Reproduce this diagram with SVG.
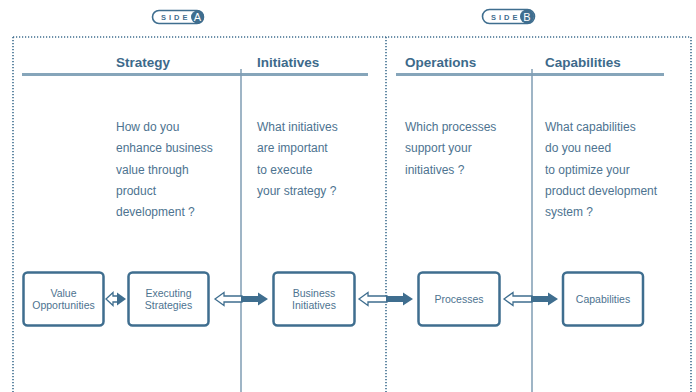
<svg xmlns="http://www.w3.org/2000/svg" width="696" height="392" viewBox="0 0 696 392">
  <style>
    .dot { stroke: #3f6e8f; stroke-width: 1.6; stroke-dasharray: 1.2 1.8; fill: none; }
    .rule { stroke: #86a5ba; stroke-width: 3; fill: none; }
    .vline { stroke: #7f9db3; stroke-width: 1.5; fill: none; }
    .head { font-family: "Liberation Sans", Arial, sans-serif; font-weight: bold; font-size: 13.5px; fill: #3d6a8b; }
    .body { font-family: "Liberation Sans", Arial, sans-serif; font-size: 12px; fill: #4d7390; }
    .box { fill: #ffffff; stroke: #3f6e8f; stroke-width: 2.5; }
    .lbl { font-family: "Liberation Sans", Arial, sans-serif; font-size: 10.5px; fill: #4d7390; text-anchor: middle; }
    .hollow { fill: #ffffff; stroke: #3f6e8f; stroke-width: 1.3; stroke-linejoin: miter; }
    .solid { fill: #3f6e8f; stroke: none; }
    .pill { fill: #ffffff; stroke: #3f6e8f; stroke-width: 1.6; }
    .pilltxt { font-family: "Liberation Sans", Arial, sans-serif; font-weight: bold; font-size: 7.5px; fill: #3f6e8f; letter-spacing: 3px; }
    .badge { fill: #3f6e8f; }
    .badgetxt { font-family: "Liberation Sans", Arial, sans-serif; font-size: 11px; fill: #ffffff; text-anchor: middle; }
  </style>

  <!-- side badges -->
  <g id="side-a">
    <rect class="pill" x="152.5" y="10.5" width="51" height="13" rx="6.5"/>
    <text class="pilltxt" x="161" y="20">SIDE</text>
    <circle class="badge" cx="197.5" cy="17" r="6.5"/>
    <text class="badgetxt" x="197.5" y="21">A</text>
  </g>
  <g id="side-b">
    <rect class="pill" x="482.5" y="9.5" width="52" height="14" rx="7"/>
    <text class="pilltxt" x="491" y="19.5">SIDE</text>
    <circle class="badge" cx="527" cy="16.5" r="7"/>
    <text class="badgetxt" x="527" y="20.5">B</text>
  </g>

  <!-- dotted frame, open at the bottom -->
  <g id="frame">
    <path class="dot" d="M13 37 H691"/>
    <path class="dot" d="M13 37 V392"/>
    <path class="dot" d="M386 37 V392"/>
    <path class="dot" d="M691 37 V392"/>
  </g>

  <!-- column rules -->
  <g id="rules">
    <path class="rule" d="M22 74.5 H368"/>
    <path class="rule" d="M396 74.5 H664"/>
    <path class="vline" d="M241 69 V392"/>
    <path class="vline" d="M532 69 V392"/>
  </g>

  <!-- column headings -->
  <g id="headings">
    <text class="head" x="116" y="67">Strategy</text>
    <text class="head" x="257" y="67">Initiatives</text>
    <text class="head" x="405" y="67">Operations</text>
    <text class="head" x="545" y="67">Capabilities</text>
  </g>

  <!-- guiding questions -->
  <g id="questions">
    <text class="body" x="116" y="131">How do you</text>
    <text class="body" x="116" y="152.3">enhance business</text>
    <text class="body" x="116" y="173.6">value through</text>
    <text class="body" x="116" y="194.9">product</text>
    <text class="body" x="116" y="216.2">development ?</text>

    <text class="body" x="257" y="131">What initiatives</text>
    <text class="body" x="257" y="152.3">are important</text>
    <text class="body" x="257" y="173.6">to execute</text>
    <text class="body" x="257" y="194.9">your strategy ?</text>

    <text class="body" x="405" y="131">Which processes</text>
    <text class="body" x="405" y="152.3">support your</text>
    <text class="body" x="405" y="173.6">initiatives ?</text>

    <text class="body" x="545" y="131">What capabilities</text>
    <text class="body" x="545" y="152.3">do you need</text>
    <text class="body" x="545" y="173.6">to optimize your</text>
    <text class="body" x="545" y="194.9">product development</text>
    <text class="body" x="545" y="216.2">system ?</text>
  </g>

  <!-- connectors: hollow head on the left, solid head on the right -->
  <g id="connectors">
    <path class="hollow" d="M106 299 L113 292.5 L113 296 L118 296 L118 302 L113 302 L113 305.5 Z"/>
    <path class="solid" d="M117 296 L117 292.5 L126 299 L117 305.5 L117 302 Z"/>

    <path class="hollow" d="M215 299 L224 292.5 L224 296 L242 296 L242 302 L224 302 L224 305.5 Z"/>
    <path class="solid" d="M241 296 L258 296 L258 292.5 L268 299 L258 305.5 L258 302 L241 302 Z"/>

    <path class="hollow" d="M359 299 L368 292.5 L368 296 L387 296 L387 302 L368 302 L368 305.5 Z"/>
    <path class="solid" d="M386 296 L403 296 L403 292.5 L413 299 L403 305.5 L403 302 L386 302 Z"/>

    <path class="hollow" d="M504 299 L513 292.5 L513 296 L532 296 L532 302 L513 302 L513 305.5 Z"/>
    <path class="solid" d="M531 296 L548 296 L548 292.5 L558 299 L548 305.5 L548 302 L531 302 Z"/>
  </g>

  <!-- nodes -->
  <g id="value-opportunities">
    <rect class="box" x="23.5" y="272.5" width="80" height="53" rx="4"/>
    <text class="lbl" x="63.5" y="296.5">Value</text>
    <text class="lbl" x="63.5" y="308.5">Opportunities</text>
  </g>
  <g id="executing-strategies">
    <rect class="box" x="128.5" y="272.5" width="80" height="53" rx="4"/>
    <text class="lbl" x="168.5" y="296.5">Executing</text>
    <text class="lbl" x="168.5" y="308.5">Strategies</text>
  </g>
  <g id="business-initiatives">
    <rect class="box" x="273.5" y="272.5" width="81" height="53" rx="4"/>
    <text class="lbl" x="314" y="296.5">Business</text>
    <text class="lbl" x="314" y="308.5">Initiatives</text>
  </g>
  <g id="processes">
    <rect class="box" x="418.5" y="272.5" width="81" height="53" rx="4"/>
    <text class="lbl" x="459" y="302.5">Processes</text>
  </g>
  <g id="capabilities">
    <rect class="box" x="563" y="272.5" width="80" height="53" rx="4"/>
    <text class="lbl" x="603" y="302.5">Capabilities</text>
  </g>
</svg>
